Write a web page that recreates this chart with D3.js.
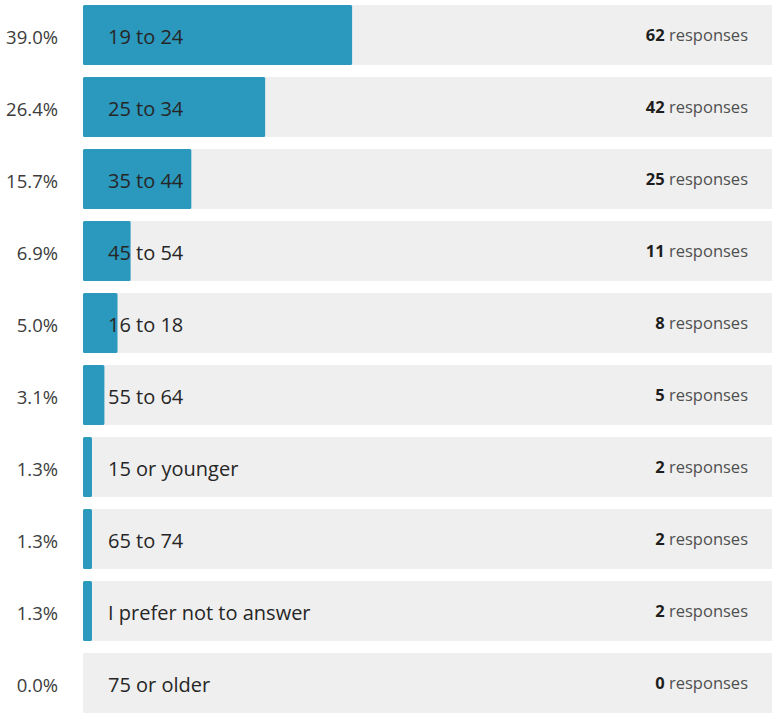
<!DOCTYPE html>
<html>
<head>
<meta charset="utf-8">
<script src="https://cdn.jsdelivr.net/npm/d3@7"></script>
<style>
  html, body { margin: 0; padding: 0; background: #fff; }
  svg { display: block; }
</style>
</head>
<body>
<svg id="chart" width="772" height="713"></svg>
<script>
// Age groups, ordered by share of responses
const categories = ["19 to 24", "25 to 34", "35 to 44", "45 to 54", "16 to 18",
                    "55 to 64", "15 or younger", "65 to 74", "I prefer not to answer", "75 or older"];
const percents = [39.0, 26.4, 15.7, 6.9, 5.0, 3.1, 1.3, 1.3, 1.3, 0.0];
const counts = [62, 42, 25, 11, 8, 5, 2, 2, 2, 0];

const svg = d3.select("#chart");
const font = "'Open Sans', 'Noto Sans', sans-serif";

const x = d3.scaleLinear().domain([0, 100]).range([83, 773]);
// 72px per row: 60px track + 12px gap
const y = d3.scaleBand()
  .domain(categories)
  .range([5, 5 + 72 * categories.length - 12])
  .paddingInner(12 / 72)
  .paddingOuter(0);

const rows = svg.selectAll("g.row")
  .data(categories.map((c, i) => ({ cat: c, pct: percents[i], n: counts[i] })))
  .join("g")
  .attr("class", "row")
  .attr("transform", d => `translate(0,${y(d.cat)})`);

const bh = y.bandwidth();

// track
rows.append("rect")
  .attr("x", x(0))
  .attr("y", 0)
  .attr("width", x(100) - x(0))
  .attr("height", bh)
  .attr("rx", 1.5)
  .attr("fill", "#efefef");

// value bar
rows.filter(d => d.pct > 0).append("rect")
  .attr("x", x(0))
  .attr("y", 0)
  .attr("width", d => x(d.pct) - x(0))
  .attr("height", bh)
  .attr("rx", 1.5)
  .attr("fill", "#2b98bd");

// percentage on the left
rows.append("text")
  .attr("x", 58)
  .attr("y", bh / 2 + 2)
  .attr("dy", "0.36em")
  .attr("text-anchor", "end")
  .attr("font-family", font)
  .attr("font-size", 18.5)
  .attr("fill", "#3c3c3c")
  .text(d => d.pct.toFixed(1) + "%");

// category label inside the track
rows.append("text")
  .attr("x", 108)
  .attr("y", bh / 2 + 1.5)
  .attr("dy", "0.36em")
  .attr("font-family", font)
  .attr("font-size", 20)
  .attr("fill", "#262626")
  .text(d => d.cat);

// response count on the right
const resp = rows.append("text")
  .attr("x", 748)
  .attr("y", bh / 2)
  .attr("dy", "0.36em")
  .attr("text-anchor", "end")
  .attr("font-family", font)
  .attr("font-size", 16.5)
  .attr("fill", "#505050");
resp.append("tspan")
  .attr("font-weight", "bold")
  .attr("fill", "#1e1e1e")
  .text(d => d.n);
resp.append("tspan")
  .text(" responses");
</script>
</body>
</html>
